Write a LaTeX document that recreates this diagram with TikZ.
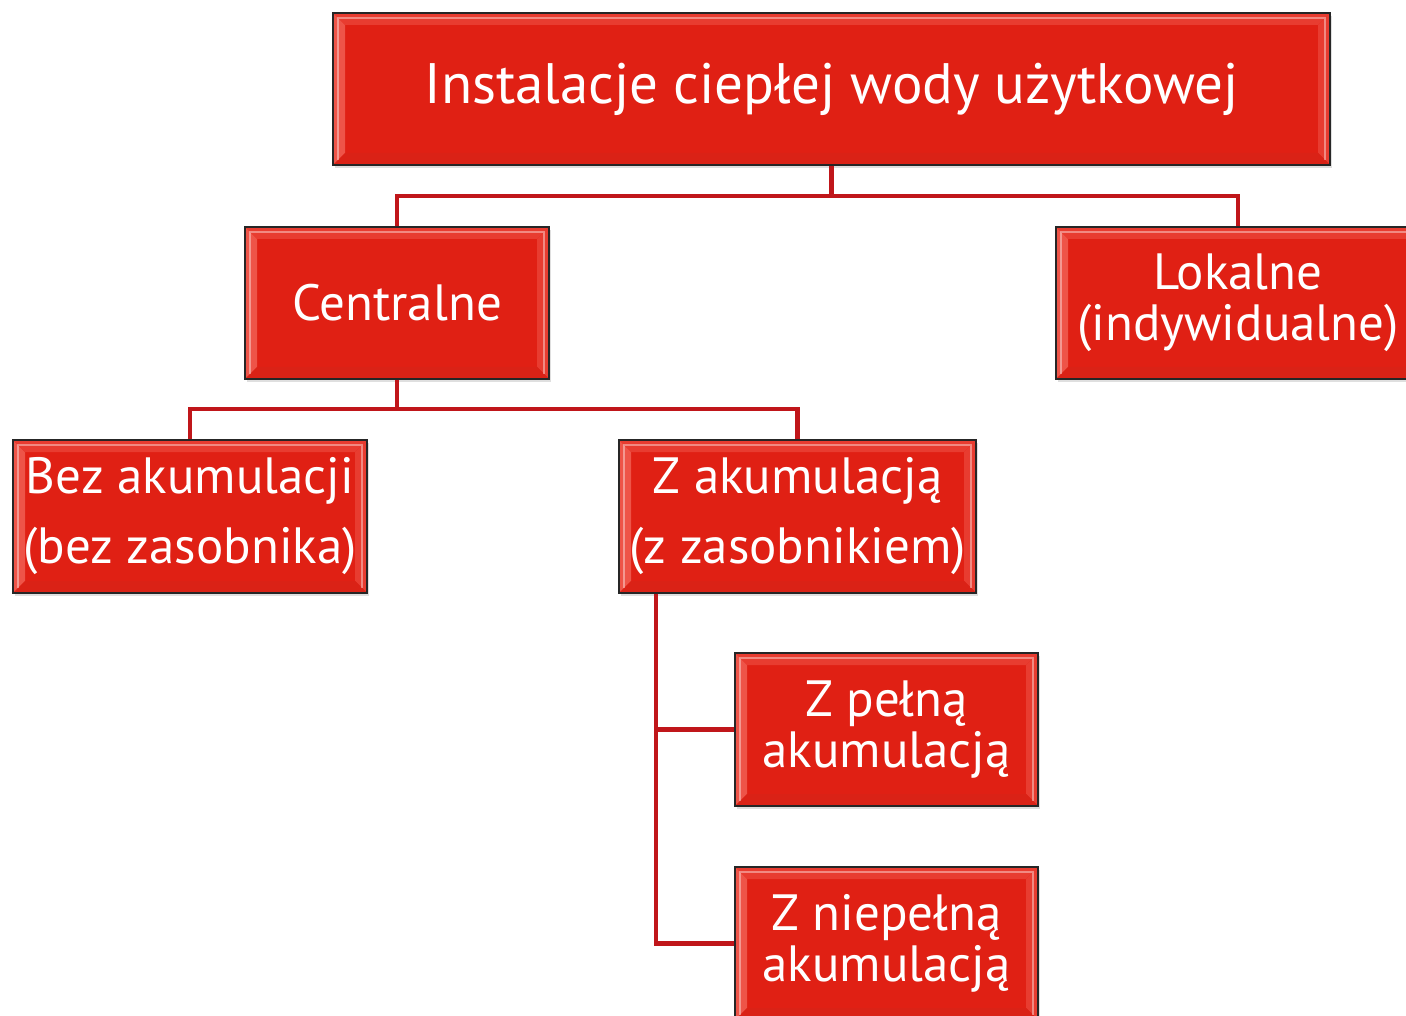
\documentclass[tikz,border=0pt]{standalone}
\usepackage{fontspec}
\setmainfont{PT Sans}
\usetikzlibrary{shadows,calc}
\definecolor{boxred}{RGB}{224,32,20}
\definecolor{linered}{RGB}{192,22,26}
\definecolor{bevlight}{RGB}{238,84,72}
\definecolor{bevmid}{RGB}{232,60,48}
\definecolor{bevdark}{RGB}{218,34,22}
\tikzset{
  box/.style={draw=black!85, line width=1.3pt, fill=boxred, text=white, align=center,
    inner sep=0pt,
    drop shadow={opacity=0.25, shadow xshift=2pt, shadow yshift=-3pt},
    path picture={
      \fill[bevlight] let \p1=(path picture bounding box.north west), \p2=(path picture bounding box.south east) in
        (\x1,\y1) -- (\x1+12pt,\y1-12pt) -- (\x1+12pt,\y2+12pt) -- (\x1,\y2) -- cycle;
      \fill[bevmid] let \p1=(path picture bounding box.north west), \p2=(path picture bounding box.south east) in
        (\x1,\y1) -- (\x2,\y1) -- (\x2-12pt,\y1-12pt) -- (\x1+12pt,\y1-12pt) -- cycle;
      \fill[bevmid] let \p1=(path picture bounding box.north west), \p2=(path picture bounding box.south east) in
        (\x2,\y1) -- (\x2,\y2) -- (\x2-12pt,\y2+12pt) -- (\x2-12pt,\y1-12pt) -- cycle;
      \fill[bevdark] let \p1=(path picture bounding box.north west), \p2=(path picture bounding box.south east) in
        (\x1,\y2) -- (\x2,\y2) -- (\x2-12pt,\y2+12pt) -- (\x1+12pt,\y2+12pt) -- cycle;
      \draw[white, opacity=0.4, line width=2pt] let \p1=(path picture bounding box.north west), \p2=(path picture bounding box.south east) in
        (\x1+5pt,\y2+5pt) -- (\x1+5pt,\y1-5pt) -- (\x2-5pt,\y1-5pt) -- (\x2-5pt,\y2+5pt);
    }},
  conn/.style={draw=linered, line width=4.5pt},
  bigtxt/.style={font=\fontsize{57}{64}\selectfont},
  midtxt/.style={font=\fontsize{51}{51}\selectfont},
  widetxt/.style={font=\fontsize{51}{70}\selectfont}
}
\begin{document}
\begin{tikzpicture}[x=1pt,y=-1pt]
\useasboundingbox (0,0) rectangle (1406,1016);
\fill[white] (0,0) rectangle (1406,1016);

\node[box, bigtxt, minimum width=997pt, minimum height=152pt] (top) at (831.5,89) {Instalacje ciepłej wody użytkowej};
\node[box, midtxt, minimum width=304pt, minimum height=152pt] (cen) at (397,303) {Centralne};
\node[box, midtxt, minimum width=364pt, minimum height=152pt] (lok) at (1238,303) {Lokalne\\(indywidualne)};
\node[box, widetxt, minimum width=354pt, minimum height=153pt] (bez) at (190,516.5) {Bez akumulacji\\(bez zasobnika)};
\node[box, widetxt, minimum width=357pt, minimum height=153pt] (zak) at (797.5,516.5) {Z akumulacją\\(z zasobnikiem)};
\node[box, midtxt, minimum width=303pt, minimum height=153pt] (pel) at (886.5,729.5) {Z pełną\\akumulacją};
\node[box, midtxt, minimum width=303pt, minimum height=153pt] (nie) at (886.5,943.5) {Z niepełną\\akumulacją};

\coordinate (j1) at (831.5,196);
\coordinate (j2) at (397,409);
\coordinate (vx) at (656,0);

\draw[conn] (top.south) -- (j1);
\draw[conn] (cen.north) |- (j1) -| (lok.north);
\draw[conn] (cen.south) -- (j2);
\draw[conn] (bez.north) |- (j2) -| (zak.north);
\draw[conn] (zak.south -| vx) |- (pel.west);
\draw[conn] (zak.south -| vx) |- (nie.west);
\end{tikzpicture}
\end{document}
